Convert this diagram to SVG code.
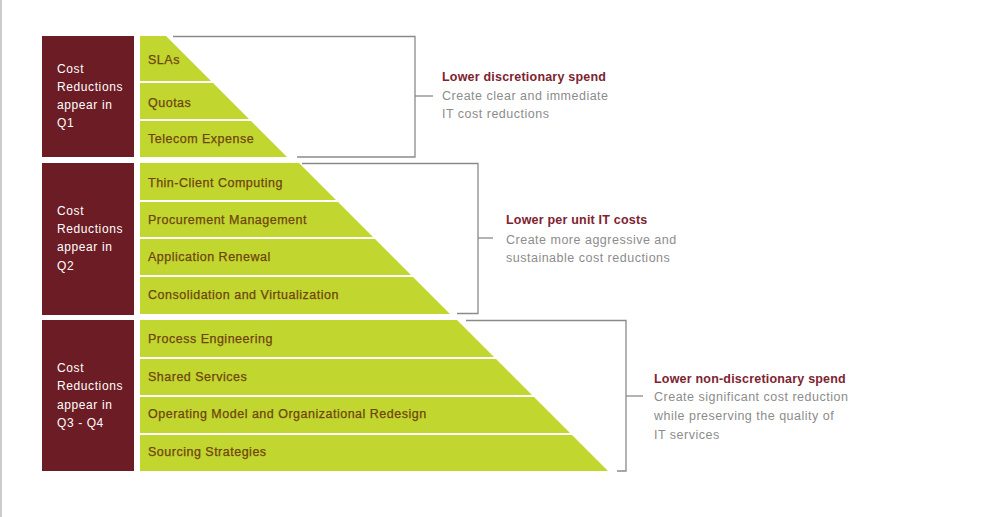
<svg xmlns="http://www.w3.org/2000/svg" width="1008" height="517" viewBox="0 0 1008 517">
<style>
.q{fill:#6b1c24}
.qt{fill:#ffffff;font-family:"Liberation Sans",Arial,sans-serif;font-size:12px;letter-spacing:0.6px}
.g{fill:#c1d62e}
.gt{fill:#704410;stroke:#704410;stroke-width:0.25px;font-family:"Liberation Sans",Arial,sans-serif;font-size:12.5px;letter-spacing:0.5px}
.br{fill:none;stroke:#8a8a8a;stroke-width:1.3}
.h{fill:#7e2330;font-family:"Liberation Sans",Arial,sans-serif;font-size:12.5px;font-weight:bold;letter-spacing:0.2px}
.d{fill:#8c8c8c;font-family:"Liberation Sans",Arial,sans-serif;font-size:12.5px;letter-spacing:0.5px}
</style>
<rect x="0" y="0" width="1008" height="517" fill="#ffffff"/>
<line x1="1" y1="0" x2="1" y2="517" stroke="#cccccc" stroke-width="2"/>

<g id="q1">
<rect class="q" x="42" y="36" width="92" height="121"/>
<text class="qt" x="57" y="73">Cost</text>
<text class="qt" x="57" y="91">Reductions</text>
<text class="qt" x="57" y="109">appear in</text>
<text class="qt" x="57" y="127">Q1</text>
</g>
<g id="q2">
<rect class="q" x="42" y="163" width="92" height="152"/>
<text class="qt" x="57" y="215">Cost</text>
<text class="qt" x="57" y="233">Reductions</text>
<text class="qt" x="57" y="251">appear in</text>
<text class="qt" x="57" y="270">Q2</text>
</g>
<g id="q34">
<rect class="q" x="42" y="320" width="92" height="151"/>
<text class="qt" x="57" y="372">Cost</text>
<text class="qt" x="57" y="390">Reductions</text>
<text class="qt" x="57" y="409">appear in</text>
<text class="qt" x="57" y="427">Q3 - Q4</text>
</g>

<g id="slas"><polygon class="g" points="140,36 166,36 211,81 140,81"/><text class="gt" x="148" y="64">SLAs</text></g>
<g id="quotas"><polygon class="g" points="140,83 213,83 249,119 140,119"/><text class="gt" x="148" y="107">Quotas</text></g>
<g id="telecom"><polygon class="g" points="140,121 251,121 287,157 140,157"/><text class="gt" x="148" y="143">Telecom Expense</text></g>

<g id="thin"><polygon class="g" points="140,163 299,163 336,200 140,200"/><text class="gt" x="148" y="187">Thin-Client Computing</text></g>
<g id="procurement"><polygon class="g" points="140,202 338,202 373,237 140,237"/><text class="gt" x="148" y="224">Procurement Management</text></g>
<g id="application"><polygon class="g" points="140,239 375,239 411,275 140,275"/><text class="gt" x="148" y="261">Application Renewal</text></g>
<g id="consolidation"><polygon class="g" points="140,277 413,277 450,314 140,314"/><text class="gt" x="148" y="299">Consolidation and Virtualization</text></g>

<g id="process"><polygon class="g" points="140,320 457,320 494,357 140,357"/><text class="gt" x="148" y="343">Process Engineering</text></g>
<g id="shared"><polygon class="g" points="140,359 496,359 532,395 140,395"/><text class="gt" x="148" y="381">Shared Services</text></g>
<g id="operating"><polygon class="g" points="140,397 534,397 570,433 140,433"/><text class="gt" x="148" y="418">Operating Model and Organizational Redesign</text></g>
<g id="sourcing"><polygon class="g" points="140,435 572,435 608,471 140,471"/><text class="gt" x="148" y="456">Sourcing Strategies</text></g>

<g id="connectors">
<polyline class="br" points="173,36.5 415,36.5 415,157 297,157"/>
<line class="br" x1="415" y1="96" x2="433" y2="96"/>
<polyline class="br" points="302,163.5 478,163.5 478,313.5 457,313.5"/>
<line class="br" x1="478" y1="238" x2="493" y2="238"/>
<polyline class="br" points="466,320.5 626,320.5 626,471 617,471"/>
<line class="br" x1="626" y1="396" x2="643" y2="396"/>
</g>

<g id="note1">
<text class="h" x="442" y="81">Lower discretionary spend</text>
<text class="d" x="442" y="100">Create clear and immediate</text>
<text class="d" x="442" y="118">IT cost reductions</text>
</g>
<g id="note2">
<text class="h" x="506" y="224">Lower per unit IT costs</text>
<text class="d" x="506" y="244">Create more aggressive and</text>
<text class="d" x="506" y="262">sustainable cost reductions</text>
</g>
<g id="note3">
<text class="h" x="654" y="383">Lower non-discretionary spend</text>
<text class="d" x="654" y="401">Create significant cost reduction</text>
<text class="d" x="654" y="420">while preserving the quality of</text>
<text class="d" x="654" y="439">IT services</text>
</g>
</svg>
